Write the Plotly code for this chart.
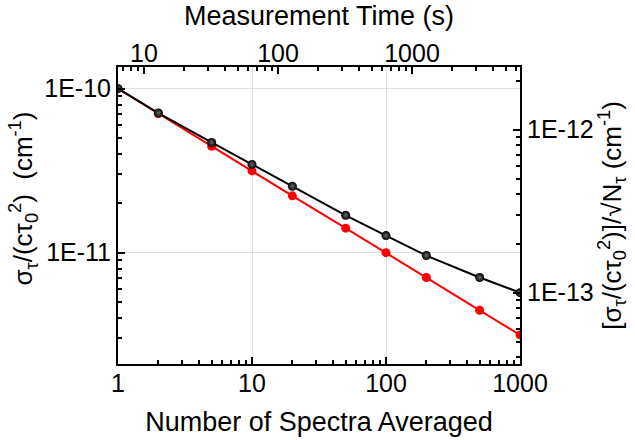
import plotly.graph_objects as go

# Number of spectra averaged
n_spectra = [1, 2, 5, 10, 20, 50, 100, 200, 500, 1000]
# Normalised noise, sigma_tau/(c tau_0^2) in cm^-1
sigma_measured = [1.0e-10, 7.1e-11, 4.7e-11, 3.45e-11, 2.54e-11, 1.69e-11,
                  1.27e-11, 9.6e-12, 7.05e-12, 5.7e-12]
sigma_ideal = [1.0e-10, 7.05e-11, 4.45e-11, 3.15e-11, 2.22e-11, 1.41e-11,
               1.0e-11, 7.05e-12, 4.45e-12, 3.15e-12]

bottom_ticks = [1, 10, 100, 1000]
top_ticks = [10, 100, 1000]
left_ticks = [1e-11, 1e-10]
left_ticktext = ["1E-11", "1E-10"]
right_ticks = [1e-13, 1e-12]
right_ticktext = ["1E-13", "1E-12"]

FONT = "Liberation Sans, Arial, sans-serif"
TICK_SIZE = 25
TITLE_SIZE = 27

fig = go.Figure()
fig.add_trace(go.Scatter(
    x=n_spectra, y=sigma_ideal, mode="lines+markers",
    line=dict(color="#ff0000", width=2),
    marker=dict(color="#ff0000", size=9),
    showlegend=False, hoverinfo="skip"))
fig.add_trace(go.Scatter(
    x=n_spectra, y=sigma_measured, mode="lines+markers",
    line=dict(color="black", width=2),
    marker=dict(color="black", size=9,
                gradient=dict(type="radial", color="#6a6a6a")),
    showlegend=False, hoverinfo="skip"))
# empty trace that anchors the secondary (top / right) axes
fig.add_trace(go.Scatter(x=[], y=[], xaxis="x2", yaxis="y2",
                         showlegend=False, hoverinfo="skip"))

minor_x = [v * d for d in (1, 10, 100, 1000, 10000) for v in range(2, 10)]
minor_y = [v * d for d in (1e-14, 1e-13, 1e-12, 1e-11, 1e-10) for v in range(2, 10)]

axis_common = dict(
    type="log", ticks="inside", ticklen=7, tickwidth=1.5, tickcolor="black",
    showline=True, linecolor="black", linewidth=2,
    tickfont=dict(family=FONT, size=TICK_SIZE, color="black"),
    zeroline=False, automargin=False,
)
minor_x_style = dict(ticks="inside", ticklen=4, tickcolor="black",
                     tickvals=minor_x, showgrid=False)
minor_y_style = dict(ticks="inside", ticklen=4, tickcolor="black",
                     tickvals=minor_y, showgrid=False)

fig.update_layout(
    width=635, height=440,
    margin=dict(l=118, r=115, t=67, b=76),
    paper_bgcolor="white", plot_bgcolor="white",
    font=dict(family=FONT, color="black"),
    xaxis=dict(
        **axis_common, range=[0, 3], tickvals=bottom_ticks,
        ticktext=[str(v) for v in bottom_ticks],
        showgrid=True, gridcolor="#e0e0e0", gridwidth=1,
        ticklabelstandoff=-4,
        minor=minor_x_style,
        title=dict(text="Number of Spectra Averaged",
                   font=dict(family=FONT, size=TITLE_SIZE), standoff=16),
    ),
    xaxis2=dict(
        **axis_common, range=[0.806, 3.806], tickvals=top_ticks,
        ticktext=[str(v) for v in top_ticks],
        overlaying="x", side="top", anchor="y2", showgrid=False,
        ticklabelstandoff=-7,
        minor=minor_x_style,
        title=dict(text="Measurement Time (s)",
                   font=dict(family=FONT, size=TITLE_SIZE), standoff=6),
    ),
    yaxis=dict(
        **axis_common, range=[-11.679, -9.868], tickvals=left_ticks,
        ticktext=left_ticktext, showgrid=True, gridcolor="#e0e0e0", gridwidth=1,
        minor=minor_y_style,
    ),
    yaxis2=dict(
        **axis_common, range=[-13.438, -11.616], tickvals=right_ticks,
        ticktext=right_ticktext, overlaying="y", side="right", anchor="x2",
        showgrid=False,
        minor=minor_y_style,
        title=dict(text="[σ<sub>τ</sub>/(cτ<sub>0</sub><sup>2</sup>)]/√N<sub>τ</sub> (cm<sup>-1</sup>)",
                   font=dict(family=FONT, size=TITLE_SIZE - 1), standoff=6),
    ),
)

# left axis title, placed close to the tick labels
fig.add_annotation(
    text="σ<sub>τ</sub>/(cτ<sub>0</sub><sup>2</sup>)\u00a0\u00a0(cm<sup>-1</sup>)",
    xref="paper", yref="paper", x=0, y=0.5,
    xanchor="center", yanchor="middle", textangle=-90,
    xshift=-95, yshift=17, showarrow=False,
    font=dict(family=FONT, size=TITLE_SIZE - 1, color="black"),
)

fig.write_html("out.html")
